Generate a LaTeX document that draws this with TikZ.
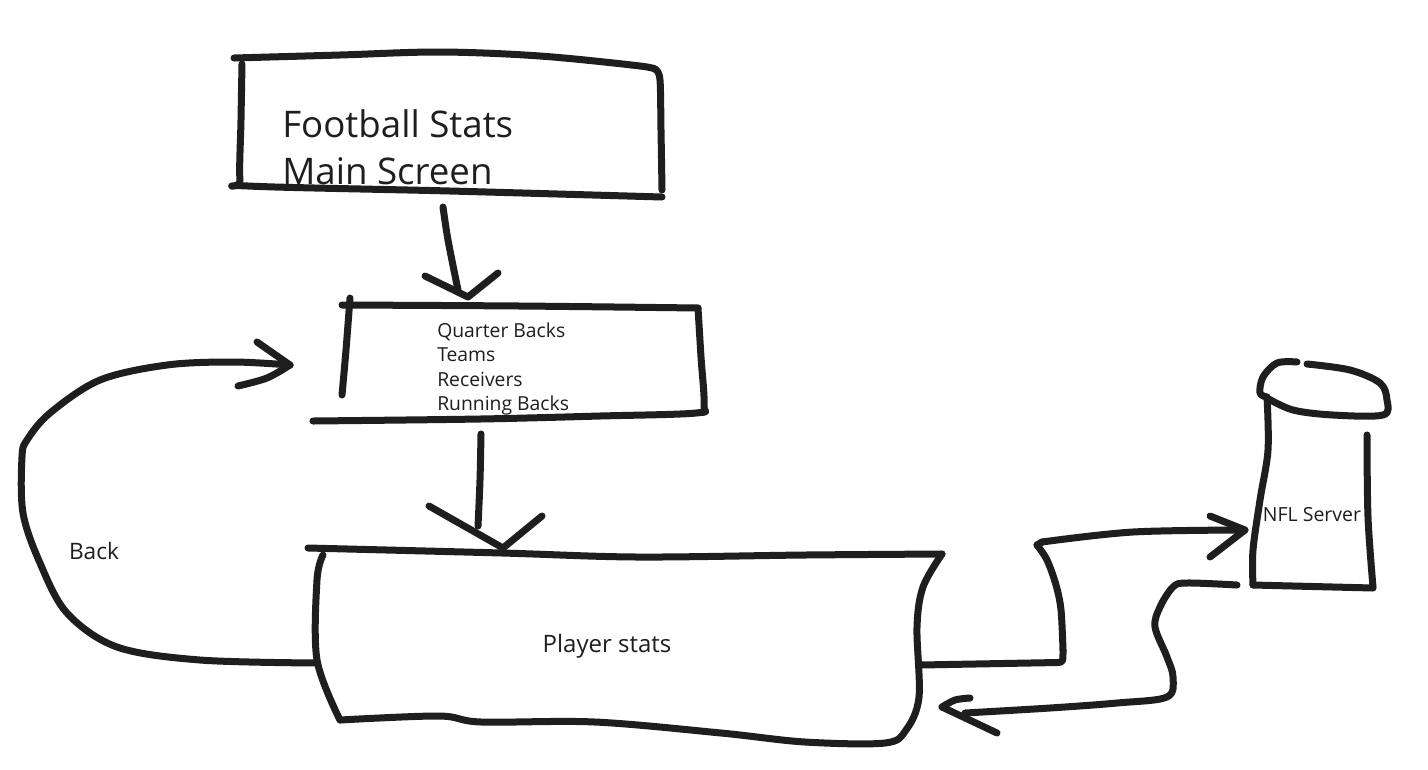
\documentclass[tikz,border=0pt]{standalone}
\usepackage{fontspec}
\setmainfont{Open Sans}
\definecolor{ink}{HTML}{1E1E1E}
\begin{document}
\begin{tikzpicture}[x=0.75pt,y=-0.75pt,
  sk/.style={draw=ink, line width=5.25pt, line cap=round, line join=round},
  lbl/.style={text=ink, inner sep=0pt},
  sm/.style={smooth, tension=0.55}]
\useasboundingbox (0,0) rectangle (1428,769);
\fill[white] (0,0) rectangle (1428,769);

% ---------- Main screen box ----------
\draw[sk] plot[sm] coordinates {(234,58) (340,55) (440,52) (540,56) (640,66) (656,70)};
\draw[sk] plot[sm] coordinates {(656,70) (660,80) (661,130) (662,190)};
\draw[sk] plot[sm] coordinates {(242,64) (241,120) (240,180) (248,186) (450,191) (662,197)};
\node[lbl, anchor=west, align=left, font=\fontsize{27.5}{35}\selectfont] (mainTxt) at (282,147) {Football Stats\\Main Screen};

% ---------- Menu box ----------
\draw[sk] plot[sm] coordinates {(342,305) (520,306) (698,308)};
\draw[sk] plot[sm] coordinates {(350,298) (346,350) (342,395)};
\draw[sk] plot[sm] coordinates {(698,308) (701,357) (704,405) (696,413) (600,416) (480,419) (313,421)};
\node[lbl, anchor=west, align=left, font=\fontsize{14.5}{18.4}\selectfont] (menuTxt) at (437,369) {Quarter Backs\\Teams\\Receivers\\Running Backs};

% ---------- Player stats box ----------
\draw[sk] plot[sm] coordinates {(308,548) (502,553) (637,557) (805,555) (942,554)};
\draw[sk] plot[sm] coordinates {(942,554) (923,587) (917,627) (919,697) (906,730) (885,743) (805,742) (721,733) (595,722) (481,722) (439,716) (340,720)};
\draw[sk] plot[sm] coordinates {(323,555) (317,580) (317,660) (340,720)};
\node[lbl, font=\fontsize{18}{20}\selectfont] (playerTxt) at (607,646) {Player stats};

% ---------- NFL server cylinder ----------
\draw[sk] plot[sm] coordinates {(1297,362) (1277,363) (1263,377) (1260,393) (1267,397)};
\draw[sk] plot[sm] coordinates {(1307,364) (1350,370) (1380,383) (1387,400) (1383,415) (1333,415) (1293,410) (1267,398)};
\draw[sk] plot[sm] coordinates {(1267,397) (1268,450) (1260,500) (1253,550) (1253,585)};
\draw[sk] (1253,585) -- (1373,588);
\draw[sk] plot[sm] coordinates {(1367,435) (1368,517) (1373,587)};
\node[lbl, font=\fontsize{14.6}{16}\selectfont] (nflTxt) at (1312,515) {NFL Server};

% ---------- connector anchors ----------
\coordinate (a1s) at (443,207);
\coordinate (a1t) at (468,297);
\coordinate (a2s) at (481,434);
\coordinate (a2t) at (503,548);
\coordinate (bks) at (317,663);
\coordinate (bkt) at (290,365);
\coordinate (r1s) at (920,665);
\coordinate (r1t) at (1245,530);
\coordinate (r2s) at (1237,585);
\coordinate (r2t) at (942,707);

% Arrow 1: main -> menu
\draw[sk] plot[sm] coordinates {(a1s) (448,240) (458,290)};
\draw[sk] (a1t) ++(-43,-21) -- (a1t) -- ++(30,-24);

% Arrow 2: menu -> player stats
\draw[sk] plot[sm] coordinates {(a2s) (480,480) (478,526)};
\draw[sk] (a2t) ++(-74,-42) -- (a2t) -- ++(39,-32);

% Back arrow
\draw[sk] plot[sm] coordinates {(bks) (200,660) (117,647) (67,613) (40,563) (23,513) (22,457) (27,440) (50,413) (100,380) (167,365) (233,362) (bkt)};
\draw[sk] (bkt) ++(-33,-23) -- (bkt);
\draw[sk] plot[sm] coordinates {(bkt) (267,378) (238,386)};
\node[lbl, font=\fontsize{17}{19}\selectfont] (backTxt) at (94,551) {Back};

% Player stats -> NFL Server
\draw[sk] (r1s) -- (1058,662.5) .. controls (1063,662) .. (1063,650);
\draw[sk] plot[sm] coordinates {(1063,650) (1061,610) (1056,585) (1047,560) (1037,545)};
\draw[sk] (1037,545) -- (1042,542);
\draw[sk] plot[sm] coordinates {(1042,542) (1133,532) (r1t)};
\draw[sk] (r1t) ++(-35,-14) -- (r1t) -- ++(-35,27);

% NFL Server -> Player stats
\draw[sk] plot[sm] coordinates {(r2s) (1187,583) (1173,587) (1160,607) (1155,627) (1167,657) (1173,677) (1167,697) (1117,703) (1050,708) (965,713)};
\draw[sk] plot[sm] coordinates {(970,698) (955,700) (r2t)};
\draw[sk] (r2t) -- (997,733);
\end{tikzpicture}
\end{document}
